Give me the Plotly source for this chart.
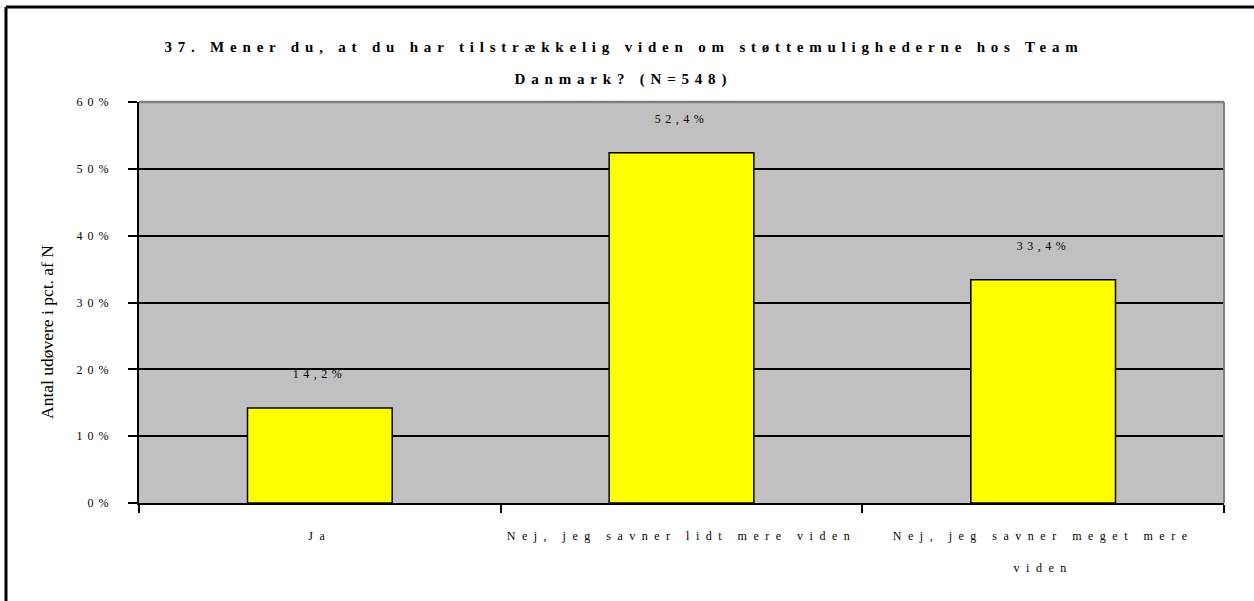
import plotly.graph_objects as go

categories = ["Ja", "Nej, jeg savner lidt mere viden", "Nej, jeg savner meget mere<br><br>viden"]
values = [14.2, 52.4, 33.4]
title_lines = ["37. Mener du, at du har tilstrækkelig viden om støttemulighederne hos Team",
               "Danmark? (N=548)"]
y_title = "Antal udøvere i pct. af N"
y_ticks = [0, 10, 20, 30, 40, 50, 60]
y_ticktext = [f"{t}%" for t in y_ticks]

FONT = "Liberation Serif"

fig = go.Figure()
fig.add_trace(go.Bar(
    x=categories, y=values, width=0.4,
    marker=dict(color="#FFFF00", line=dict(color="black", width=1.5)),
    hoverinfo="skip",
))

annotations = []
# title lines (annotations 0,1)
for line, ypos in zip(title_lines, [1.137, 1.055]):
    annotations.append(dict(text=line, xref="paper", yref="paper", x=0.447, y=ypos,
                            showarrow=False, xanchor="center", yanchor="middle",
                            font=dict(family=FONT, size=15, color="black", weight="bold")))
# value labels (annotations 2,3,4)
for c, v in zip(categories, values):
    annotations.append(dict(text=f"{v:.1f}".replace(".", ",") + "%", x=c, y=v,
                            xref="x", yref="y", showarrow=False, yshift=34,
                            yanchor="middle", xanchor="center",
                            font=dict(family=FONT, size=12, color="black")))
# y axis title (annotation 5)
annotations.append(dict(text=y_title, xref="paper", yref="paper", x=-0.0848, y=0.4264,
                        showarrow=False, textangle=-90, xanchor="center", yanchor="middle",
                        font=dict(family=FONT, size=17.5, color="black")))

fig.update_layout(
    width=1254, height=601,
    margin=dict(l=139, r=30, t=102, b=98),
    paper_bgcolor="white", plot_bgcolor="#C0C0C0",
    showlegend=False,
    annotations=annotations,
    font=dict(family=FONT, color="black"),
    shapes=[
        dict(type="line", xref="paper", yref="paper", x0=0, x1=1, y0=1, y1=1,
             line=dict(color="#808080", width=2.5)),
        dict(type="line", xref="paper", yref="paper", x0=1, x1=1, y0=0, y1=1,
             line=dict(color="#808080", width=2)),
        dict(type="line", xref="paper", yref="paper", x0=-0.1226, x1=-0.1226, y0=-0.3, y1=1.2369,
             line=dict(color="black", width=3)),
        dict(type="line", xref="paper", yref="paper", x0=-0.1226, x1=1.03, y0=1.2369, y1=1.2369,
             line=dict(color="black", width=3)),
    ],
)

fig.update_xaxes(
    type="category", tickson="boundaries", ticks="outside", ticklen=8, tickwidth=1.5,
    tickcolor="black", showline=True, linecolor="black", linewidth=2,
    tickfont=dict(family=FONT, size=12, color="black"), ticklabelstandoff=21,
    showgrid=False,
)
fig.update_yaxes(
    range=[0, 60], tickvals=y_ticks, ticktext=y_ticktext, ticks="outside", ticklen=9,
    tickwidth=1.5, tickcolor="black", showline=True, linecolor="black", linewidth=2,
    showgrid=True, gridcolor="black", gridwidth=1.5, zeroline=False,
    tickfont=dict(family=FONT, size=12, color="black"), ticklabelstandoff=12,
)

post = """
document.body.style.margin='0';
var s=document.createElement('style');
s.innerHTML='.xtick text{letter-spacing:6.5px}.ytick text{letter-spacing:5px}'
 + '.annotation[data-index="0"] text,.annotation[data-index="1"] text{letter-spacing:5.8px}'
 + '.annotation[data-index="2"] text,.annotation[data-index="3"] text,.annotation[data-index="4"] text{letter-spacing:4.5px}';
document.head.appendChild(s);
"""
fig.write_html("out.html", post_script=post, config={"displayModeBar": False})
